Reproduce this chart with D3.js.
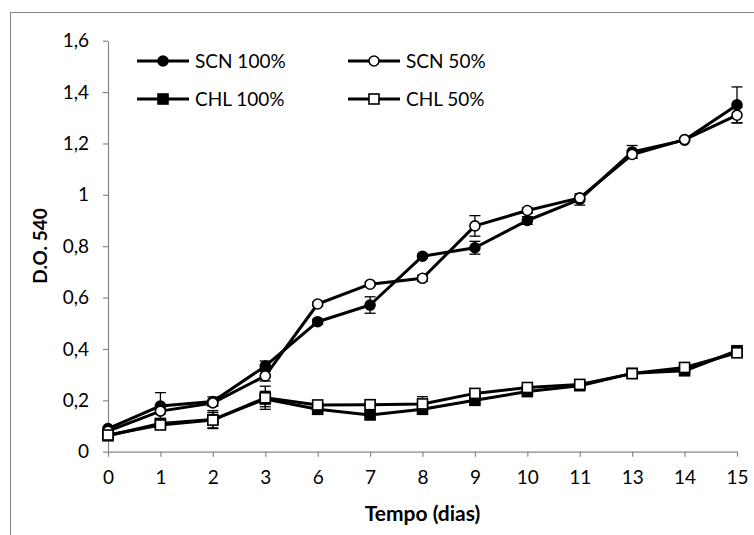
<!DOCTYPE html>
<html>
<head>
<meta charset="utf-8">
<script src="https://cdn.jsdelivr.net/npm/d3@7"></script>
<style>
  body { margin: 0; background: #fff; }
  svg { display: block; font-family: Lato, "Open Sans", sans-serif; }
</style>
</head>
<body>
<svg id="chart" width="754" height="535"></svg>
<script>
// categories (days)
var days = ["0", "1", "2", "3", "6", "7", "8", "9", "10", "11", "13", "14", "15"];

// series values
var scn100 = [0.090, 0.178, 0.195, 0.333, 0.506, 0.571, 0.761, 0.794, 0.900, 0.982, 1.167, 1.213, 1.350];
var scn100Err = [0.005, 0.052, 0.018, 0.020, 0.010, 0.032, 0.008, 0.025, 0.015, 0.022, 0.025, 0.005, 0.070];
var scn50 = [0.080, 0.158, 0.190, 0.295, 0.575, 0.652, 0.675, 0.879, 0.939, 0.988, 1.157, 1.215, 1.310];
var scn50Err = [0.005, 0.010, 0.010, 0.020, 0.008, 0.008, 0.012, 0.040, 0.010, 0.008, 0.015, 0.005, 0.030];
var chl100 = [0.062, 0.110, 0.125, 0.205, 0.165, 0.143, 0.165, 0.200, 0.234, 0.257, 0.305, 0.315, 0.393];
var chl100Err = [0.005, 0.015, 0.035, 0.030, 0.010, 0.008, 0.010, 0.012, 0.010, 0.008, 0.010, 0.008, 0.018];
var chl50 = [0.065, 0.104, 0.123, 0.210, 0.182, 0.183, 0.186, 0.227, 0.250, 0.262, 0.304, 0.328, 0.385];
var chl50Err = [0.005, 0.010, 0.030, 0.045, 0.008, 0.008, 0.028, 0.012, 0.010, 0.008, 0.010, 0.008, 0.015];

var yTicks = [0, 0.2, 0.4, 0.6, 0.8, 1, 1.2, 1.4, 1.6];

var series = [
  { name: "SCN 100%", values: scn100, err: scn100Err, shape: "circle", fill: "#000" },
  { name: "SCN 50%",  values: scn50,  err: scn50Err,  shape: "circle", fill: "#fff" },
  { name: "CHL 100%", values: chl100, err: chl100Err, shape: "square", fill: "#000" },
  { name: "CHL 50%",  values: chl50,  err: chl50Err,  shape: "square", fill: "#fff" }
];

var svg = d3.select("#chart");
var axisColor = "#868686";

// chart area border (runs off the right and bottom edges)
svg.append("rect")
  .attr("x", 10.5).attr("y", 12.5)
  .attr("width", 800).attr("height", 600)
  .attr("fill", "none")
  .attr("stroke", axisColor)
  .attr("stroke-width", 1);

var x = d3.scalePoint()
  .domain(days)
  .range([108, 737]);

var y = d3.scaleLinear()
  .domain([0, 1.6])
  .range([451.7, 40.7]);

var fmt = function(d) { return String(+d.toFixed(1)).replace(".", ","); };

// y axis
var gy = svg.append("g")
  .attr("transform", "translate(108,0)")
  .call(d3.axisLeft(y).tickValues(yTicks).tickFormat(fmt).tickSize(5).tickSizeOuter(0).tickPadding(14));

// x axis
var gx = svg.append("g")
  .attr("transform", "translate(0,451.7)")
  .call(d3.axisBottom(x).tickSize(5).tickSizeOuter(0).tickPadding(14));

[gx, gy].forEach(function(g) {
  g.select(".domain").attr("stroke", axisColor).attr("stroke-width", 1.2);
  g.selectAll(".tick line").attr("stroke", axisColor).attr("stroke-width", 1.2);
  g.selectAll(".tick text")
    .attr("fill", "#000")
    .style("font-size", "19px")
    .style("font-family", "Lato, sans-serif");
});

// axis titles
svg.append("text")
  .attr("x", 422.5).attr("y", 521)
  .attr("text-anchor", "middle")
  .style("font-size", "21px")
  .style("font-weight", "bold")
  .text("Tempo (dias)");

svg.append("text")
  .attr("transform", "translate(47,246) rotate(-90)")
  .attr("text-anchor", "middle")
  .style("font-size", "19px")
  .style("font-weight", "bold")
  .text("D.O. 540");

function drawMarker(g, s, cx, cy) {
  if (s.shape === "circle") {
    g.append("circle")
      .attr("cx", cx).attr("cy", cy).attr("r", 5)
      .attr("fill", s.fill).attr("stroke", "#000").attr("stroke-width", 1.6);
  } else {
    g.append("rect")
      .attr("x", cx - 5).attr("y", cy - 5)
      .attr("width", 10).attr("height", 10)
      .attr("fill", s.fill).attr("stroke", "#000").attr("stroke-width", 1.6);
  }
}

var line = d3.line()
  .x(function(d, i) { return x(days[i]); })
  .y(function(d) { return y(d); });

var plot = svg.append("g");

series.forEach(function(s) {
  var g = plot.append("g");
  // error bars
  s.values.forEach(function(v, i) {
    var cx = x(days[i]);
    var lo = y(v - s.err[i]), hi = y(v + s.err[i]);
    g.append("line").attr("x1", cx).attr("x2", cx).attr("y1", lo).attr("y2", hi)
      .attr("stroke", "#000").attr("stroke-width", 1.3);
    [lo, hi].forEach(function(yy) {
      g.append("line").attr("x1", cx - 5.5).attr("x2", cx + 5.5).attr("y1", yy).attr("y2", yy)
        .attr("stroke", "#000").attr("stroke-width", 1.3);
    });
  });
  g.append("path")
    .datum(s.values)
    .attr("d", line)
    .attr("fill", "none")
    .attr("stroke", "#000")
    .attr("stroke-width", 3)
    .attr("stroke-linejoin", "round");
  s.values.forEach(function(v, i) {
    drawMarker(g, s, x(days[i]), y(v));
  });
});

// legend
var legendCols = [137, 348];
var legendRows = [61, 99];
series.forEach(function(s, i) {
  var lx = legendCols[i % 2], ly = legendRows[Math.floor(i / 2)];
  var g = svg.append("g").attr("transform", "translate(" + lx + "," + ly + ")");
  g.append("line").attr("x1", 0).attr("x2", 52).attr("y1", 0).attr("y2", 0)
    .attr("stroke", "#000").attr("stroke-width", 3);
  drawMarker(g, s, 26, 0);
  g.append("text")
    .attr("x", 58).attr("y", 0).attr("dy", "0.36em")
    .style("font-size", "19px")
    .text(s.name);
});
</script>
</body>
</html>
